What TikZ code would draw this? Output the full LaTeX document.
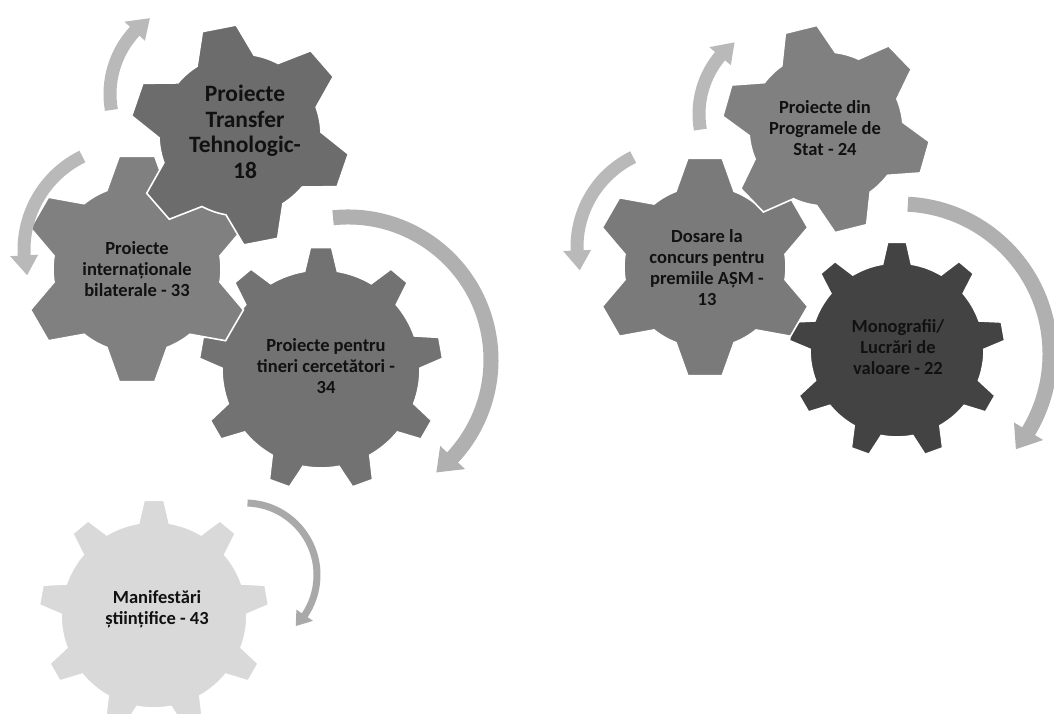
\documentclass[tikz,border=0pt]{standalone}
\usepackage{fontspec}
\setmainfont{Carlito}
\definecolor{gTransfer}{HTML}{6C6C6C}
\definecolor{gBilat}{HTML}{808080}
\definecolor{gTineri}{HTML}{727272}
\definecolor{gManif}{HTML}{D9D9D9}
\definecolor{gProg}{HTML}{808080}
\definecolor{gDosare}{HTML}{7A7A7A}
\definecolor{gMono}{HTML}{434343}
\definecolor{arrLight}{HTML}{B9B9B9}
\definecolor{arrMid}{HTML}{B0B0B0}
\definecolor{arrDark}{HTML}{A9A9A9}
\definecolor{txt}{HTML}{111111}
% gear: cx, cy, R, r, n, first tooth angle, tip half-angle, base half-angle, colour
\newcommand\drawgear[9]{%
  \pgfmathsetmacro\gs{360/#5}%
  \pgfmathtruncatemacro\gn{#5-1}%
  \begin{scope}[shift={(#1pt,#2pt)}]
    \filldraw[fill=#9, draw=white, line width=1.6pt, line join=miter]
      ({#6-#8}:#4pt)
      \foreach \k in {0,...,\gn} {
        -- ({#6+\k*\gs-#7}:#3pt) -- ({#6+\k*\gs+#7}:#3pt) -- ({#6+\k*\gs+#8}:#4pt)
        arc[start angle={#6+\k*\gs+#8}, end angle={#6+(\k+1)*\gs-#8}, radius=#4pt]
      } -- cycle;
  \end{scope}}
% circular arrow: cx, cy, r, start angle, end angle, width, head half-width, head length, colour
\newcommand\garrow[9]{%
  \pgfmathsetmacro\asg{ifthenelse(#5>#4,1,-1)}%
  \pgfmathsetmacro\adl{#8/#3*57.2958}%
  \pgfmathsetmacro\rin{#3-#7}%
  \pgfmathsetmacro\rout{#3+#7}%
  \begin{scope}[shift={(#1pt,#2pt)}]
    \draw[#9, line width=#6pt] (#4:#3pt) arc[start angle=#4, end angle={#5+\asg*0.6}, radius=#3pt];
    \fill[#9] ({#5+\asg*\adl}:#3pt) -- (#5:\rin pt) -- (#5:\rout pt) -- cycle;
  \end{scope}}
\tikzset{
  lbl/.style={align=center, text=txt, inner sep=0pt,
    font=\bfseries\fontsize{18.5}{21}\selectfont},
  lblbig/.style={lbl, font=\bfseries\fontsize{23.5}{25.5}\selectfont}
}
\begin{document}
\begin{tikzpicture}
\useasboundingbox (0,0) rectangle (1054pt,714pt);
\fill[white] (0,0) rectangle (1054pt,714pt);
% left group gears (bottom to top)
\drawgear{321}{345}{122}{99}{9}{90}{5}{9.5}{gTineri}
\drawgear{137}{445}{114}{84}{6}{90}{9}{21}{gBilat}
\drawgear{240}{579}{110}{81}{6}{101}{9}{21}{gTransfer}
% single gear
\drawgear{154}{99}{115}{93}{9}{90}{5}{9.5}{gManif}
% right group gears
\drawgear{897}{364}{108}{87}{9}{90}{5}{9.5}{gMono}
\drawgear{705}{447}{110}{81}{6}{90}{9}{21}{gDosare}
\drawgear{826}{585}{104}{77}{6}{104}{9}{21}{gProg}
% arrows
\garrow{202}{620}{92}{190}{137}{13}{14}{20}{arrLight}
\garrow{128}{464}{104}{116}{183}{13}{14}{20}{arrLight}
\garrow{348}{354}{143}{96}{-43}{15}{17}{22}{arrMid}
\garrow{245}{139}{72}{88}{-34}{7}{10}{14}{arrDark}
\garrow{789}{600}{90}{190}{140}{13}{14}{20}{arrLight}
\garrow{677}{467}{100}{116}{182}{13}{14}{20}{arrLight}
\garrow{900}{360}{150}{87}{-31}{15}{17}{22}{arrMid}
% labels
\node[lblbig] (t1) at (245pt,582pt) {Proiecte\\Transfer\\Tehnologic-\\18};
\node[lbl] (t2) at (137pt,445pt) {Proiecte\\internaționale\\bilaterale - 33};
\node[lbl] (t3) at (326pt,348pt) {Proiecte pentru\\tineri cercetători -\\34};
\node[lbl] (t4) at (157pt,105pt) {Manifestări\\științifice - 43};
\node[lbl] (t5) at (825pt,586pt) {Proiecte din\\Programele de\\Stat - 24};
\node[lbl] (t6) at (707pt,446pt) {Dosare la\\concurs pentru\\premiile AȘM -\\13};
\node[lbl] (t7) at (898pt,367pt) {Monografii/\\Lucrări de\\valoare - 22};
\end{tikzpicture}
\end{document}
